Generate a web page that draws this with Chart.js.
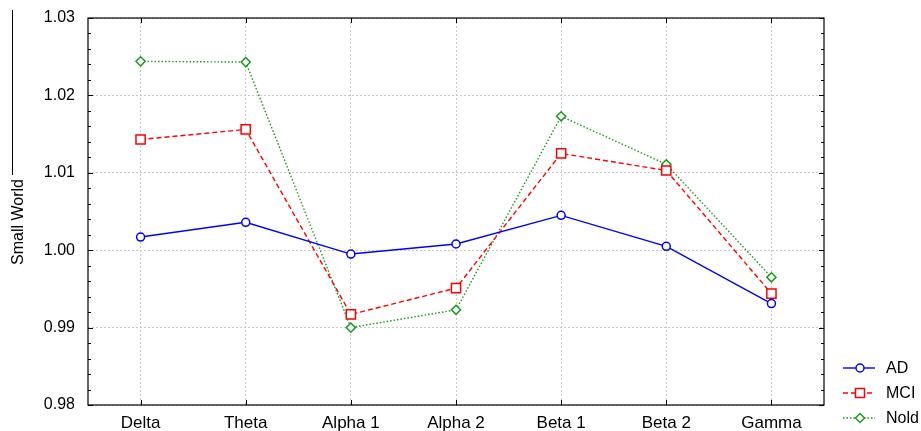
<!DOCTYPE html>
<html><head><meta charset="utf-8">
<script src="https://cdn.jsdelivr.net/npm/chart.js@4.4.0/dist/chart.umd.min.js"></script>
<style>
html,body{margin:0;padding:0;background:#fff;overflow:hidden;}
#wrap{position:relative;width:921px;height:431px;overflow:hidden;}
#legend{position:absolute;left:840px;top:355px;font-family:"Liberation Sans",Arial,sans-serif;font-size:16px;color:#000;white-space:nowrap;}
#legend div{height:25px;display:flex;align-items:center;}
#legend svg{margin-right:8px;}
</style></head><body>
<div id="wrap"><canvas id="c" width="921" height="431"></canvas><div id="legend"></div></div>
<script>
const categories = ["Delta","Theta","Alpha 1","Alpha 2","Beta 1","Beta 2","Gamma"];
const AD   = [1.0017, 1.0036, 0.9995, 1.0008, 1.0045, 1.0005, 0.9931];
const MCI  = [1.0143, 1.0156, 0.9917, 0.9951, 1.0125, 1.0103, 0.9944];
const Nold = [1.0244, 1.0243, 0.9900, 0.9923, 1.0173, 1.0111, 0.9965];
const yTicks = [0.98, 0.99, 1.00, 1.01, 1.02, 1.03];
const yTitle = "Small World";

const series = [
  {label:"AD", data:AD, color:"#0000ff", dash:[], style:"circle", r:4},
  {label:"MCI", data:MCI, color:"#ff0000", dash:[5,3], style:"rect", r:6.5},
  {label:"Nold", data:Nold, color:"#1a9a1a", dash:[1.5,2], style:"rectRot", r:4.6}
];

const framePlugin = {
  id:'frame',
  afterDraw(chart){
    const {ctx, chartArea:a, scales} = chart;
    ctx.save();
    ctx.strokeStyle = '#000'; ctx.lineWidth = 1.2;
    ctx.strokeRect(a.left, a.top, a.right-a.left, a.bottom-a.top);
    ctx.lineWidth = 1;
    const y = scales.y;
    for (let i = 0; i <= 25; i++) {
      const v = 0.98 + i*0.002;
      const py = Math.round(y.getPixelForValue(v)) + 0.5;
      const len = (i % 5 === 0) ? 5 : 3;
      ctx.beginPath(); ctx.moveTo(a.left, py); ctx.lineTo(a.left+len, py); ctx.stroke();
      ctx.beginPath(); ctx.moveTo(a.right, py); ctx.lineTo(a.right-len, py); ctx.stroke();
    }
    const x = scales.x;
    categories.forEach((c,i)=>{
      const px = Math.round(x.getPixelForValue(i)) + 0.5;
      ctx.beginPath(); ctx.moveTo(px, a.bottom); ctx.lineTo(px, a.bottom-5); ctx.stroke();
      ctx.beginPath(); ctx.moveTo(px, a.top); ctx.lineTo(px, a.top+5); ctx.stroke();
    });
    // stray vertical line at left
    ctx.beginPath(); ctx.moveTo(12.5, 10); ctx.lineTo(12.5, 175); ctx.stroke();
    // y axis title
    ctx.translate(19, 222);
    ctx.rotate(-Math.PI/2);
    ctx.fillStyle = '#000';
    ctx.font = '16px "Liberation Sans", Arial';
    ctx.textAlign = 'center'; ctx.textBaseline = 'middle';
    ctx.fillText(yTitle, 0, 0);
    ctx.restore();
  }
};

new Chart(document.getElementById('c'), {
  type:'line',
  data:{
    labels:categories,
    datasets:series.map(s=>({
      label:s.label, data:s.data, borderColor:s.color, borderWidth:1.4,
      borderDash:s.dash, pointStyle:s.style, pointRadius:s.r, pointBorderWidth:1.5,
      pointBorderColor:s.color, pointBackgroundColor:'#fff', tension:0, fill:false
    }))
  },
  options:{
    responsive:false, animation:false, devicePixelRatio:1,
    layout:{padding:{top:18, right:97, left:0, bottom:0}},
    plugins:{legend:{display:false}, tooltip:{enabled:false}},
    scales:{
      x:{
        offset:true,
        grid:{color:'#c8c8c8', drawTicks:false, offset:false},
        border:{display:false, dash:[2,2]},
        ticks:{color:'#000', font:{family:'"Liberation Sans", Arial', size:17}, padding:8, maxRotation:0},
        afterFit(s){ s.height = 26; s.paddingLeft = 0; s.paddingRight = 0; }
      },
      y:{
        min:0.98, max:1.03,
        afterBuildTicks(s){ s.ticks = yTicks.map(v=>({value:v})); },
        grid:{color:'#c8c8c8', drawTicks:false},
        border:{display:false, dash:[2,2]},
        ticks:{color:'#000', font:{family:'"Liberation Sans", Arial', size:16}, padding:13, callback:v=>Number(v).toFixed(2)},
        afterFit(s){ s.width = 88; s.paddingTop = 0; s.paddingBottom = 0; }
      }
    }
  },
  plugins:[framePlugin]
});

const leg = document.getElementById('legend');
series.forEach(s=>{
  const d = document.createElement('div');
  let mark;
  if (s.style==='circle') mark = `<circle cx="20" cy="8" r="4" fill="#fff" stroke="${s.color}" stroke-width="1.5"/>`;
  else if (s.style==='rect') mark = `<rect x="15.5" y="3.5" width="9" height="9" fill="#fff" stroke="${s.color}" stroke-width="1.5"/>`;
  else mark = `<polygon points="20,3.5 24.5,8 20,12.5 15.5,8" fill="#fff" stroke="${s.color}" stroke-width="1.5"/>`;
  d.innerHTML = `<svg width="38" height="16"><line x1="3" y1="8" x2="35" y2="8" stroke="${s.color}" stroke-width="1.4" stroke-dasharray="${s.dash.join(',')}"/>${mark}</svg><span>${s.label}</span>`;
  leg.appendChild(d);
});
</script>
</body></html>
